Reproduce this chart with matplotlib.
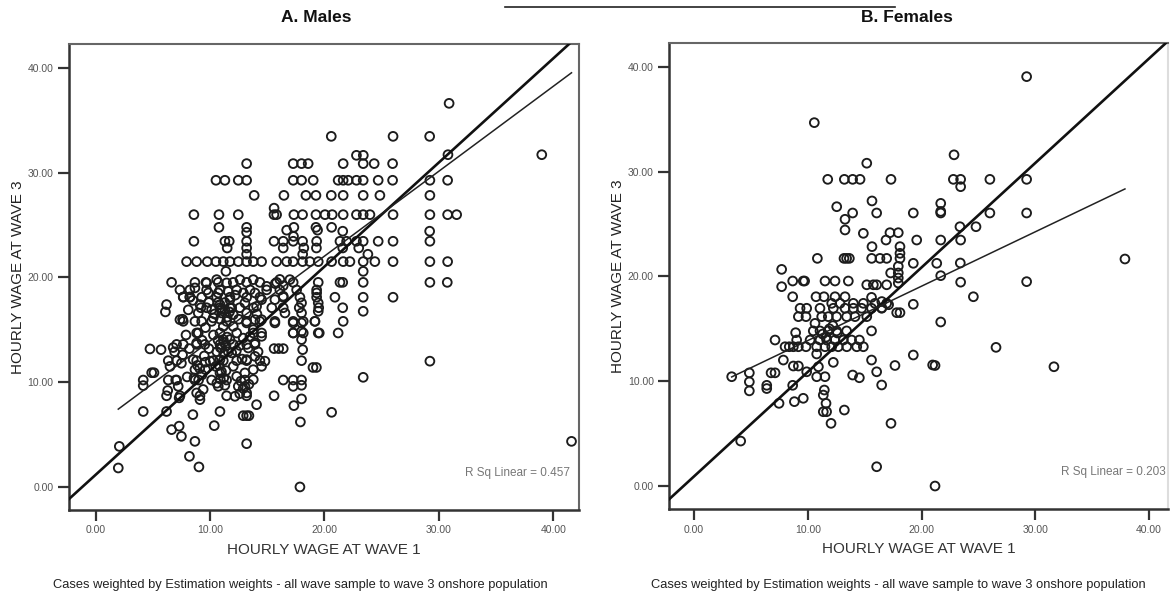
import numpy as np
import matplotlib
matplotlib.use("Agg")
import matplotlib.pyplot as plt
from matplotlib.lines import Line2D

# ---------------------------------------------------------------- data
# (hourly wage at wave 1, hourly wage at wave 3)
male_points = [
    (30.9, 36.6), (20.6, 33.45), (26.0, 33.45), (29.2, 33.45), (22.8, 31.64), (23.4, 31.64),
    (39.0, 31.7), (30.8, 31.7),
    (13.2, 30.85), (17.27, 30.85), (18.0, 30.85), (18.58, 30.85), (21.64, 30.85), (23.39, 30.85),
    (24.35, 30.85), (25.96, 30.85),
    (10.52, 29.26), (11.3, 29.26), (12.47, 29.26), (13.2, 29.26), (17.27, 29.26), (18.0, 29.26),
    (19.02, 29.26), (21.2, 29.26), (21.64, 29.26), (22.08, 29.26), (22.8, 29.26), (23.39, 29.26),
    (24.7, 29.26), (25.96, 29.26), (29.22, 29.26), (30.77, 29.26),
    (13.86, 27.82), (16.46, 27.82), (18.38, 27.82), (19.26, 27.82), (20.6, 27.82), (21.64, 27.82),
    (23.39, 27.82), (24.85, 27.82), (29.22, 27.82), (15.6, 26.6),
    (8.59, 25.98), (10.78, 25.98), (12.47, 25.98), (15.59, 25.98), (15.82, 25.98), (17.33, 25.98),
    (18.09, 25.98), (19.26, 25.98), (20.05, 25.98), (20.68, 25.98), (21.64, 25.98), (22.8, 25.98),
    (23.39, 25.98), (23.98, 25.98), (26.0, 25.98), (29.22, 25.98), (30.77, 25.98), (31.56, 25.98),
    (10.78, 24.77), (13.2, 24.77), (17.33, 24.77), (19.26, 24.77), (20.63, 24.77),
    (13.2, 24.3), (16.7, 24.5), (17.3, 23.9), (19.4, 24.5), (21.6, 24.4), (29.2, 24.4),
    (8.59, 23.44), (11.3, 23.44), (11.68, 23.44), (13.2, 23.44), (15.59, 23.44), (16.4, 23.44),
    (17.27, 23.44), (18.09, 23.44), (19.32, 23.44), (21.36, 23.44), (21.94, 23.44), (22.8, 23.44),
    (23.39, 23.44), (24.7, 23.44), (26.0, 23.44), (29.22, 23.44),
    (11.5, 22.8), (13.2, 22.8), (16.4, 22.8), (18.2, 22.8), (19.3, 22.8), (21.6, 22.8), (23.0, 22.8),
    (13.2, 22.2), (18.1, 22.2), (23.8, 22.2),
    (7.95, 21.5), (8.83, 21.5), (9.76, 21.5), (10.52, 21.5), (11.16, 21.5), (11.74, 21.5),
    (12.47, 21.5), (13.2, 21.5), (13.78, 21.5), (14.51, 21.5), (15.82, 21.5), (16.7, 21.5),
    (17.27, 21.5), (18.09, 21.5), (18.73, 21.5), (19.46, 21.5), (20.63, 21.5), (21.64, 21.5),
    (22.23, 21.5), (23.39, 21.5), (24.41, 21.5), (26.0, 21.5), (29.22, 21.5), (30.77, 21.5),
    (11.39, 20.57), (23.39, 20.57),
    (6.64, 19.52), (8.68, 19.52), (9.64, 19.52), (10.72, 19.52), (12.03, 19.52), (13.2, 19.52),
    (14.36, 19.52), (15.82, 19.52), (17.27, 19.52), (19.46, 19.52), (21.36, 19.52), (21.6, 19.52),
    (23.39, 19.52), (29.22, 19.52), (30.74, 19.52),
    (7.37, 18.8), (8.24, 18.8), (9.7, 18.8), (10.87, 18.8), (12.33, 18.8), (13.5, 18.8),
    (14.95, 18.8), (16.1, 18.8), (17.57, 18.8), (19.32, 18.8),
    (7.66, 18.1), (8.24, 18.1), (9.27, 18.1), (10.58, 18.1), (11.74, 18.1), (13.2, 18.1),
    (14.36, 18.1), (16.4, 18.1), (17.86, 18.1), (19.32, 18.1), (20.92, 18.1), (23.39, 18.1),
    (26.0, 18.1),
    (6.2, 17.4), (6.1, 16.7),
    (9.2, 17.1), (9.7, 17.1), (10.87, 17.1), (11.74, 17.1), (12.6, 17.1), (13.8, 17.1),
    (15.4, 17.1), (16.4, 17.1), (17.8, 17.1), (19.5, 17.1), (21.6, 17.1), (23.39, 16.76),
    (7.66, 15.8), (8.68, 15.8), (10.14, 15.8), (11.45, 15.8), (13.2, 15.8), (14.36, 15.8),
    (15.67, 15.8), (17.27, 15.8), (18.15, 15.8), (19.17, 15.8), (21.64, 15.8),
    (8.83, 14.69), (10.87, 14.69), (12.33, 14.69), (13.78, 14.69), (14.51, 14.69), (17.27, 14.69),
    (18.15, 14.69), (19.46, 14.69), (21.2, 14.69),
    (7.08, 13.6), (7.66, 13.6), (8.83, 13.6), (9.55, 13.6), (10.87, 13.6), (12.03, 13.6),
    (13.2, 13.6), (13.93, 13.6),
    (4.75, 13.17), (5.72, 13.1), (15.6, 13.2), (16.0, 13.2), (16.4, 13.2), (6.78, 13.3),
    (6.35, 12.05), (7.08, 12.05), (8.83, 12.05), (10.28, 12.05), (11.16, 12.05), (12.33, 12.05),
    (13.2, 12.05), (14.36, 12.05), (18.0, 12.05),
    (19.0, 11.4), (19.3, 11.4), (4.9, 10.9), (5.1, 10.9),
    (4.16, 10.2), (6.35, 10.2), (7.08, 10.2), (8.68, 10.2), (10.14, 10.2), (11.45, 10.2),
    (13.05, 10.2), (16.4, 10.2), (17.27, 10.2), (18.0, 10.2),
    (23.39, 10.46), (17.27, 9.6), (18.0, 9.7),
    (6.2, 8.7), (7.37, 8.7), (9.12, 8.7), (11.45, 8.7), (13.2, 8.7), (15.6, 8.7), (18.0, 8.4),
    (4.16, 7.2), (6.2, 7.2), (8.5, 6.9), (10.87, 7.2), (14.07, 7.85), (17.33, 7.76), (20.63, 7.12),
    (12.9, 6.8), (13.2, 6.8), (13.4, 6.8),
    (6.64, 5.47), (7.3, 5.8), (7.5, 4.83), (8.68, 4.35), (10.37, 5.85), (13.2, 4.13), (17.9, 6.2),
    (8.2, 2.92), (9.03, 1.91), (2.07, 3.87), (1.98, 1.81), (17.86, 0.0), (29.22, 12.0),
    (41.6, 4.35),
    (4.16, 9.67), (6.3, 9.2), (7.6, 16.0), (7.22, 9.6), (7.3, 8.5),
    # centre of the cloud
    (7.37, 15.96), (7.66, 18.13), (8.24, 18.13), (8.68, 18.99), (8.97, 16.6), (9.12, 17.4),
    (9.27, 15.8), (8.97, 14.69), (8.83, 13.74), (8.53, 12.15), (8.68, 11.19), (8.83, 8.97),
    (9.12, 8.33), (9.7, 19.47), (9.85, 18.51), (10.14, 16.92), (10.28, 16.13), (10.58, 19.78),
    (10.72, 18.51), (10.87, 17.4), (11.01, 16.6), (11.16, 15.32), (11.16, 14.06), (11.01, 13.26),
    (10.87, 12.15), (10.87, 10.88), (10.72, 9.6), (11.45, 19.47), (11.59, 18.66), (11.74, 17.87),
    (11.89, 17.08), (12.03, 16.44), (12.03, 15.32), (11.74, 14.06), (11.89, 12.79), (12.03, 11.51),
    (12.33, 10.55), (12.47, 9.6), (12.18, 8.65), (12.62, 19.78), (12.91, 18.51), (13.05, 17.56),
    (13.2, 16.6), (13.2, 15.65), (13.49, 14.37), (13.34, 13.26), (13.2, 12.15), (13.05, 10.88),
    (13.05, 9.6), (13.2, 8.97), (13.78, 19.78), (13.93, 18.51), (14.07, 17.23), (13.93, 15.96),
    (13.78, 15.01), (13.93, 13.74), (13.93, 12.46), (13.78, 11.19), (13.78, 10.24), (14.51, 17.87),
    (14.51, 15.96), (14.51, 14.37), (14.51, 11.51), (14.95, 19.14), (15.67, 17.87), (15.67, 15.65),
    (16.4, 18.2), (16.55, 16.6), (16.98, 19.78), (17.27, 15.65), (17.27, 14.69), (18.0, 17.56),
    (18.0, 16.6), (18.0, 15.65), (18.0, 14.85), (18.0, 14.06), (18.1, 13.1), (19.17, 15.8),
    (19.32, 18.51), (19.46, 17.56), (19.46, 16.76), (19.55, 14.69),
    (11.0, 17.0), (11.3, 16.9), (11.2, 13.8), (11.4, 13.5), (11.0, 11.0), (11.2, 10.4),
    (9.3, 14.0), (9.5, 12.5), (9.6, 11.2), (9.9, 13.2), (10.0, 12.0), (10.3, 14.5), (10.5, 11.5),
    (12.6, 13.5), (12.8, 12.2), (14.2, 12.9), (14.8, 12.0), (7.9, 14.5), (8.2, 13.2), (7.6, 12.6),
    (6.9, 12.9), (6.5, 11.5), (7.0, 10.2), (7.5, 11.8), (8.0, 10.5), (9.0, 10.2), (9.4, 9.3),
    # darkest clusters
    (10.4, 16.5), (10.7, 17.6), (11.5, 16.2), (11.7, 16.7), (10.9, 16.0), (11.3, 17.6),
    (10.6, 12.9), (10.9, 13.3), (11.5, 14.3), (11.6, 12.9), (11.2, 12.7), (10.7, 14.0),
    (8.6, 10.4), (8.9, 11.6), (9.3, 10.7), (9.6, 11.9), (9.1, 11.3),
    (10.6, 9.9), (10.9, 10.3), (11.3, 9.7), (11.4, 11.1), (10.8, 11.6),
    (12.6, 8.9), (12.9, 9.4), (13.4, 9.8), (12.7, 10.1),
    (15.7, 19.4), (16.1, 19.8), (16.4, 19.2), (12.2, 18.3), (12.5, 16.0), (9.6, 15.2),
    (8.1, 16.9), (8.5, 17.8), (9.9, 17.6), (12.9, 14.2), (12.3, 13.0), (14.1, 16.5),
]

female_points = [
    (22.85, 31.6), (15.18, 30.8), (10.57, 34.67), (29.23, 39.06), (37.87, 21.66), (31.63, 11.38),
    (21.18, 0.0), (16.05, 1.84), (4.1, 4.29),
    (11.75, 29.26), (13.21, 29.26), (13.94, 29.26), (14.59, 29.26), (17.31, 29.26), (22.79, 29.26),
    (23.43, 29.26), (26.0, 29.26), (29.23, 29.26),
    (23.43, 28.56), (15.64, 27.2), (12.54, 26.65), (21.68, 26.97),
    (13.94, 26.05), (16.05, 26.05), (19.27, 26.05), (21.68, 26.05), (21.68, 26.2), (26.0, 26.05),
    (29.23, 26.05),
    (13.27, 25.45), (13.27, 24.43), (14.88, 24.11), (17.22, 24.17), (17.95, 24.17),
    (23.37, 24.74), (24.78, 24.74),
    (16.87, 23.47), (19.57, 23.47), (21.68, 23.47), (23.43, 23.47),
    (15.64, 22.84), (18.1, 22.84), (18.1, 22.2),
    (10.84, 21.72), (13.18, 21.72), (13.41, 21.72), (13.65, 21.72), (15.61, 21.72), (16.34, 21.72),
    (16.93, 21.72), (18.1, 21.72),
    (19.27, 21.25), (21.33, 21.25), (23.4, 21.28),
    (17.95, 20.96), (17.95, 20.33), (17.95, 19.85), (17.95, 19.37), (17.28, 20.33),
    (21.68, 20.07), (7.7, 20.67), (7.7, 19.02),
    (8.67, 19.56), (9.6, 19.56), (9.72, 19.56), (11.51, 19.56), (12.39, 19.56), (13.56, 19.56),
    (23.43, 19.45), (29.23, 19.5), (8.67, 18.06),
    (10.72, 18.06), (11.42, 18.06), (12.39, 18.06), (13.27, 18.06), (24.55, 18.06),
    (15.18, 19.2), (15.76, 19.2), (16.05, 19.2), (16.93, 19.2),
    (15.6, 18.0), (16.5, 17.6), (16.5, 17.0), (17.1, 17.3), (19.27, 17.34),
    (17.81, 16.54), (18.1, 16.54), (21.68, 15.65), (26.54, 13.23), (19.27, 12.5),
    (20.97, 11.55), (21.18, 11.5), (17.66, 11.5), (15.6, 12.02), (16.05, 10.9), (16.49, 9.64),
    (13.94, 10.59), (14.53, 10.33), (13.21, 7.25), (12.04, 5.98), (17.31, 5.98),
    (11.45, 9.16), (11.36, 8.68), (11.6, 7.89), (11.36, 7.09), (11.65, 7.09),
    (8.82, 8.05), (9.6, 8.37), (7.47, 7.89), (3.31, 10.43),
    (4.86, 10.8), (4.86, 9.94), (4.86, 9.08), (6.39, 9.61), (6.39, 9.3), (6.77, 10.8),
    (7.12, 10.8), (7.12, 13.93),
    (7.85, 12.02), (8.67, 9.61), (8.73, 11.45), (9.17, 11.45), (9.9, 10.9), (10.78, 10.43),
    (10.93, 11.38), (11.51, 10.43), (12.24, 11.8), (10.78, 12.6),
    (8.0, 13.29), (8.37, 13.29), (8.73, 13.29), (9.17, 13.29), (9.84, 13.29), (10.78, 13.29),
    (11.51, 13.29), (12.1, 13.29), (12.68, 13.29), (13.42, 13.29), (14.3, 13.29), (14.88, 13.29),
    (9.02, 13.93), (10.2, 13.93), (11.07, 13.93), (11.66, 13.93), (12.39, 13.93), (13.12, 13.93),
    (13.85, 13.93), (14.53, 13.93), (8.93, 14.63),
    (10.48, 14.8), (11.07, 14.8), (11.8, 14.8), (12.53, 14.8), (13.41, 14.8), (15.6, 14.8),
    (10.63, 15.52),
    (9.17, 16.16), (9.84, 16.16), (11.22, 16.16), (11.8, 16.16), (12.53, 16.16), (13.41, 16.16),
    (14.15, 16.16), (15.18, 16.16),
    (9.32, 16.96), (9.9, 16.96), (11.07, 16.96), (12.24, 16.96), (13.27, 16.96), (14.0, 16.96),
    (14.73, 16.96), (15.6, 16.96), (16.49, 16.96),
    (12.1, 17.43), (12.83, 17.43), (14.0, 17.43), (14.88, 17.43), (15.9, 17.43), (16.93, 17.43),
    (11.3, 14.5), (11.6, 14.2), (11.9, 15.0), (12.2, 15.3), (12.6, 14.6),
]

# linear fit (thin) and reference (thick) lines: (intercept, slope)
male_fit = (5.82, 0.81)
male_ref = (1.16, 0.993)
female_fit = (8.69, 0.519)
female_ref = (0.92, 0.997)

r_sq = [0.457, 0.203]
panel_titles = ["A. Males", "B. Females"]
tick_values = [0, 10, 20, 30, 40]
x_label = "HOURLY WAGE AT WAVE 1"
y_label = "HOURLY WAGE AT WAVE 3"
footnote = "Cases weighted by Estimation weights - all wave sample to wave 3 onshore population"

# ---------------------------------------------------------------- style
SANS = ["Liberation Sans", "DejaVu Sans"]
W, H = 1171, 594

fig = plt.figure(figsize=(W / 100, H / 100), dpi=100)
fig.patch.set_facecolor("white")

panels = [
    dict(rect=[0.0589, 0.1414, 0.4355, 0.7845], xlim=(-2.33, 42.25), ylim=(-2.2, 42.26),
         pts=male_points, fit=male_fit, ref=male_ref, r2=r_sq[0], r2x=0.982,
         title_x=316 / W, note_x=300 / W),
    dict(rect=[0.5713, 0.1426, 0.4261, 0.7845], xlim=(-2.2, 41.65), ylim=(-2.22, 42.24),
         pts=female_points, fit=female_fit, ref=female_ref, r2=r_sq[1], r2x=0.996,
         title_x=907 / W, note_x=898 / W),
]

for i, p in enumerate(panels):
    ax = fig.add_axes(p["rect"])
    ax.set_xlim(*p["xlim"])
    ax.set_ylim(*p["ylim"])
    pts = np.array(p["pts"])
    ax.scatter(pts[:, 0], pts[:, 1], s=40, facecolors="none", edgecolors="#1c1c1c",
               linewidths=1.35, zorder=3)

    # reference line across the whole plot
    b, m = p["ref"]
    ax.axline((0, b), slope=m, color="#111111", lw=1.9, zorder=4)
    # fitted line over the observed range
    b, m = p["fit"]
    xs = np.array([pts[:, 0].min(), pts[:, 0].max()])
    ax.plot(xs, b + m * xs, color="#222222", lw=1.1, zorder=4)

    ax.set_xticks(tick_values)
    ax.set_yticks(tick_values)
    ax.set_xticklabels([f"{v:.2f}" for v in tick_values], family=SANS, fontsize=7.5, color="#555555")
    ax.set_yticklabels([f"{v:.2f}" for v in tick_values], family=SANS, fontsize=7.5, color="#555555")
    ax.tick_params(direction="out", length=8, width=1.6, color="#333333", pad=3)

    for side in ["left", "bottom"]:
        ax.spines[side].set_color("#333333")
        ax.spines[side].set_linewidth(1.8)
    ax.spines["top"].set_color("#666666")
    ax.spines["top"].set_linewidth(1.5)
    ax.spines["right"].set_color("#666666" if i == 0 else "#dddddd")
    ax.spines["right"].set_linewidth(1.5)

    ax_w = p["rect"][2] * W
    ax_h = p["rect"][3] * H
    ax.set_xlabel(x_label, family=SANS, fontsize=11, color="#333333")
    ax.set_ylabel(y_label, family=SANS, fontsize=11, color="#222222")
    ax.xaxis.set_label_coords(0.5, -33 / ax_h)
    ax.yaxis.set_label_coords(-44 / ax_w, 0.5)

    ax.text(p["r2x"], 0.079, f"R Sq Linear = {p['r2']:.3f}", transform=ax.transAxes,
            ha="right", va="center", family=SANS, fontsize=8.5, color="#777777")

    fig.text(p["title_x"], 0.971, panel_titles[i], ha="center", va="center", family=SANS,
             fontsize=12.5, fontweight="bold", color="#111111")
    fig.text(p["note_x"], 0.015, footnote, ha="center", va="center",
             family=SANS, fontsize=9.3, color="#222222")

# underline of the heading band at the top edge
fig.add_artist(Line2D([505 / W, 895 / W], [1 - 7 / H, 1 - 7 / H],
                      transform=fig.transFigure, color="#222222", lw=1.2))

fig.savefig("out.png", dpi=100, facecolor="white")
